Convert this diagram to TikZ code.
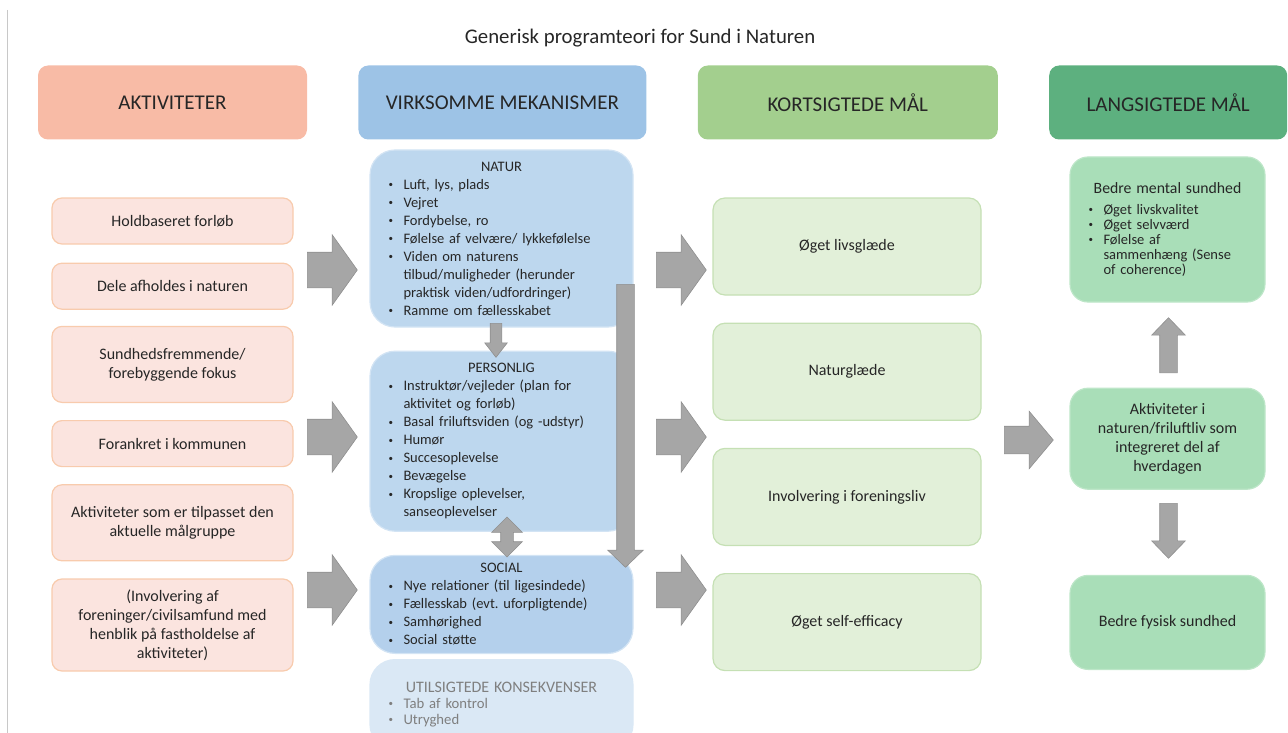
\documentclass[tikz,border=0pt]{standalone}
\usepackage{fontspec}
\setmainfont{Carlito}
\usepackage{tikz}
\usetikzlibrary{shapes.arrows}
\usetikzlibrary{positioning}
\definecolor{aktkop}{HTML}{F8BBA6}
\definecolor{mekkop}{HTML}{9DC3E6}
\definecolor{kortkop}{HTML}{A3CF8E}
\definecolor{langkop}{HTML}{5DB07F}
\definecolor{aktfyld}{HTML}{FBE4DF}
\definecolor{aktkant}{HTML}{F8CBAD}
\definecolor{mekfyld}{HTML}{BDD7EE}
\definecolor{mekkant}{HTML}{D3E4F4}
\definecolor{socfyld}{HTML}{B4D0EC}
\definecolor{utilfyld}{HTML}{DAE8F5}
\definecolor{utiltekst}{HTML}{7F7F7F}
\definecolor{kortfyld}{HTML}{E2F0D9}
\definecolor{kortkant}{HTML}{C5E0B4}
\definecolor{langfyld}{HTML}{A9DEB8}
\definecolor{langkant}{HTML}{BDE6C8}
\definecolor{pilfyld}{HTML}{A6A6A6}
\definecolor{pilkant}{HTML}{8F8F8F}
\definecolor{tekst}{HTML}{262626}
\definecolor{linjegraa}{HTML}{C8C8C8}
\newcommand{\brod}{\fontsize{14.5}{18}\selectfont}
\newcommand{\stor}{\fontsize{16}{19}\selectfont}
\newcommand{\punkt}[1]{\par\hangindent=17pt\hangafter=1\noindent\makebox[17pt][l]{\hspace{2pt}\raisebox{1.6pt}{\fontsize{9}{9}\selectfont\textbullet}}#1}
\tikzset{node distance=17pt, % Afstand mellem boksene i en kolonne
every node/.style={text=tekst},
kop/.style={ % Overskrifterne
rounded corners=10pt,
minimum height=74pt,
font=\fontsize{21}{25}\selectfont},
aktboks/.style={ % Aktiviteter
draw=aktkant, fill=aktfyld, line width=1.2pt,
rounded corners=10pt,
minimum width=241pt,
align=center, font=\stor},
mekboks/.style={ % Virksomme mekanismer
draw=mekkant, fill=mekfyld, line width=1.2pt,
rounded corners=25pt,
text width=230pt, inner xsep=16.5pt, inner ysep=3pt,
align=left, font=\brod},
kortboks/.style={ % Kortsigtede maal
draw=kortkant, fill=kortfyld, line width=1.2pt,
rounded corners=12pt,
minimum width=268pt, minimum height=97pt,
align=center, font=\stor},
langboks/.style={ % Langsigtede maal
draw=langkant, fill=langfyld, line width=1.2pt,
rounded corners=18pt,
minimum width=195pt,
align=center, font=\stor},
blokpil/.style={ % Graa blokpile
single arrow, single arrow head indent=0pt,
fill=pilfyld, draw=pilkant, line width=0.6pt,
inner sep=0pt},
storpil/.style={blokpil,
minimum height=50pt, inner ysep=17.5pt,
single arrow head extend=17.5pt, single arrow tip angle=109},
mellempil/.style={blokpil, % lodrette pile: skaftet styres af inner xsep
minimum height=55pt, inner xsep=8.5pt,
single arrow head extend=8pt, single arrow tip angle=88},
dobbeltpil/.style={double arrow, double arrow head indent=0pt,
fill=pilfyld, draw=pilkant, line width=0.6pt,
inner sep=0pt, minimum height=40pt, inner xsep=6pt,
double arrow head extend=9pt, double arrow tip angle=90}}
\begin{document}
\begin{tikzpicture}[x=1pt,y=-1pt]
\useasboundingbox (0,0) rectangle (1288,733);
\clip (0,0) rectangle (1288,733);
\coordinate (kantTop) at (7,10);
\coordinate (kantBund) at (7,733);
\draw[linjegraa, line width=1pt] (kantTop) -- (kantBund);
\node[font=\fontsize{20.8}{24}\selectfont] (titel) at (640,38) {Generisk programteori for Sund i Naturen};
% overskrifter
\node[kop, fill=aktkop, minimum width=269pt] (hAkt) at (172.5,102.5) {AKTIVITETER};
\node[kop, fill=mekkop, minimum width=288pt, right=51pt of hAkt] (hMek) {VIRKSOMME MEKANISMER};
\node[kop, fill=kortkop, minimum width=300pt, right=51pt of hMek] (hKort) {KORTSIGTEDE MÅL};
\node[kop, fill=langkop, minimum width=238pt, right=51pt of hKort] (hLang) {LANGSIGTEDE MÅL};
% aktiviteter
\node[aktboks, minimum height=46pt] (akt1) at (172.5,221) {Holdbaseret forløb};
\node[aktboks, minimum height=46pt, below=18pt of akt1] (akt2) {Dele afholdes i naturen};
\node[aktboks, minimum height=76pt, below=16pt of akt2] (akt3) {Sundhedsfremmende/\\ forebyggende fokus};
\node[aktboks, minimum height=46pt, below=17pt of akt3] (akt4) {Forankret i kommunen};
\node[aktboks, minimum height=76pt, below=17pt of akt4] (akt5) {Aktiviteter som er tilpasset den\\ aktuelle målgruppe};
\node[aktboks, minimum height=92pt, below=17pt of akt5] (akt6) {(Involvering af\\ foreninger/civilsamfund med\\ henblik på fastholdelse af\\ aktiviteter)};
% mekanismer
\node[mekboks, minimum height=177pt] (natur) at (501.5,238.5) {{\centering NATUR\par}
\punkt{Luft, lys, plads}\punkt{Vejret}\punkt{Fordybelse, ro}\punkt{Følelse af velvære/ lykkefølelse}
\punkt{Viden om naturens\newline tilbud/muligheder (herunder\newline praktisk viden/udfordringer)}\punkt{Ramme om fællesskabet}\par};
\node[mekboks, minimum height=180pt, below=23pt of natur] (personlig) {{\centering PERSONLIG\par}
\punkt{Instruktør/vejleder (plan for\newline aktivitet og forløb)}\punkt{Basal friluftsviden (og -udstyr)}\punkt{Humør}
\punkt{Succesoplevelse}\punkt{Bevægelse}\punkt{Kropslige oplevelser,\newline sanseoplevelser}\par};
\node[mekboks, fill=socfyld, minimum height=98pt, below=23pt of personlig] (social) {{\centering SOCIAL\par}
\punkt{Nye relationer (til ligesindede)}\punkt{Fællesskab (evt.\ uforpligtende)}\punkt{Samhørighed}\punkt{Social støtte}\par};
\node[mekboks, fill=utilfyld, draw=utilfyld, text=utiltekst, minimum height=90pt, below=5pt of social,
font=\fontsize{14.7}{16}\selectfont] (utilsigt) {{\centering\fontsize{16}{19}\selectfont UTILSIGTEDE KONSEKVENSER\par}
\punkt{Tab af kontrol}\punkt{Utryghed}\par};
% kortsigtede maal
\node[kortboks] (kort1) at (847,246.5) {Øget livsglæde};
\node[kortboks, below=27pt of kort1] (kort2) {Naturglæde};
\node[kortboks, below=27pt of kort2] (kort3) {Involvering i foreningsliv};
\node[kortboks, below=27pt of kort3] (kort4) {Øget self-efficacy};
% langsigtede maal
\node[langboks, minimum height=145pt, text width=162pt, inner xsep=16.5pt, align=left,
font=\fontsize{14.5}{15}\selectfont] (mental) at (1167.5,229.5) {{\centering\fontsize{15.75}{18}\selectfont Bedre mental sundhed\par}\vspace{6pt}
\punkt{Øget livskvalitet}\punkt{Øget selvværd}\punkt{Følelse af\newline sammenhæng (Sense\newline of coherence)}\par};
\node[langboks, minimum height=101pt, below=85pt of mental] (hverdag) {Aktiviteter i\\ naturen/friluftliv som\\ integreret del af\\ hverdagen};
\node[langboks, minimum height=94pt, below=85pt of hverdag] (fysisk) {Bedre fysisk sundhed};
% pile
\node[storpil, anchor=tail] (pil1) at (307,270) {};
\node[storpil, anchor=tail] (pil2) at (307,437) {};
\node[storpil, anchor=tail] (pil3) at (307,590) {};
\node[storpil, anchor=tail] (pil4) at (656,270) {};
\node[storpil, anchor=tail] (pil5) at (656,437) {};
\node[storpil, anchor=tail] (pil6) at (656,590) {};
\node[blokpil, minimum height=49pt, inner ysep=13.5pt, single arrow head extend=15pt,
single arrow tip angle=100, anchor=tail] (pil7) at (1004,440) {};
\node[mellempil, shape border rotate=90, anchor=tail] (pilOp) at (1168.5,373) {};
\node[mellempil, shape border rotate=270, anchor=tail] (pilNed) at (1168.5,503) {};
\node[blokpil, minimum height=34pt, inner xsep=5.5pt, single arrow head extend=5.5pt,
single arrow tip angle=76, shape border rotate=270, anchor=tail] (pilNP) at (496,323) {};
\node[dobbeltpil, shape border rotate=90] (pilPS) at (507,537) {};
\node[blokpil, minimum height=283pt, inner xsep=8.5pt, single arrow head extend=9pt,
single arrow tip angle=92, shape border rotate=270, anchor=tail] (pilLang) at (625.5,284) {};
\end{tikzpicture}
\end{document}
